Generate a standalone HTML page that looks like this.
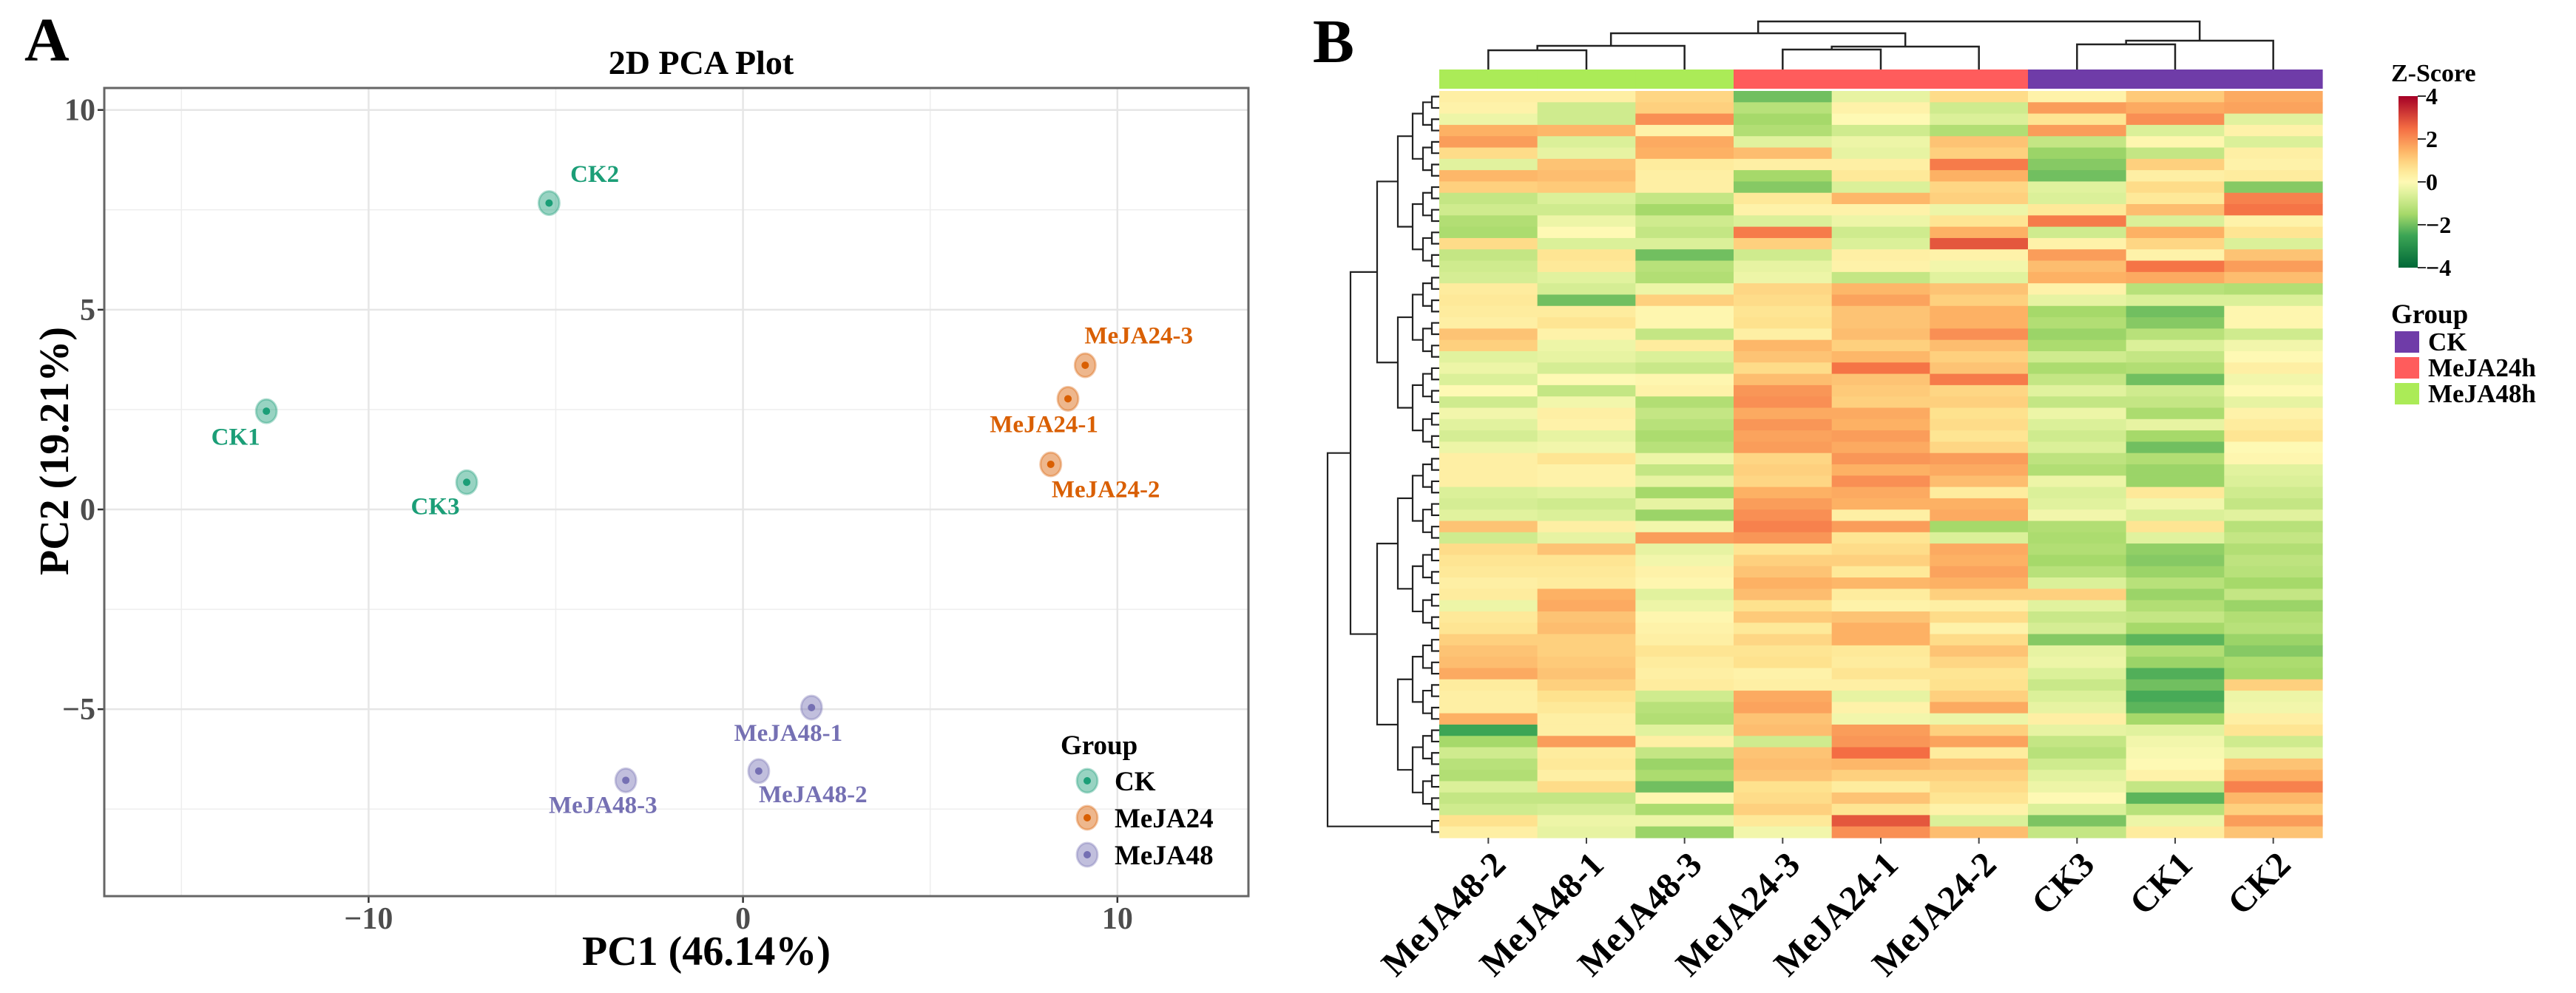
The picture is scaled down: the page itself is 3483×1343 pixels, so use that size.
<!DOCTYPE html>
<html><head><meta charset="utf-8"><style>
html,body{margin:0;padding:0;background:#fff;}
svg{display:block;font-family:"Liberation Serif",serif;font-weight:bold;}
</style></head><body>
<svg id="fig" width="3483" height="1343" viewBox="0 0 3483 1343" xmlns="http://www.w3.org/2000/svg">
<rect x="0" y="0" width="3483" height="1343" fill="#fff"/>
<text x="33" y="82" font-size="84">A</text>
<text x="948" y="100" font-size="46" text-anchor="middle">2D PCA Plot</text>
<g id="pca"></g>
<text x="955" y="1305" font-size="56" text-anchor="middle">PC1 (46.14%)</text>
<text transform="translate(92,610) rotate(-90)" font-size="56" text-anchor="middle">PC2 (19.21%)</text>
<text x="1775" y="84" font-size="84">B</text>
<g id="heat"></g>
</svg>
<script>
// ---------- PCA data ----------
const pcaSamples = ["CK1","CK2","CK3","MeJA24-1","MeJA24-2","MeJA24-3","MeJA48-1","MeJA48-2","MeJA48-3"];
const pcaGroups = ["CK","CK","CK","MeJA24","MeJA24","MeJA24","MeJA48","MeJA48","MeJA48"];
const pc1Values = [-12.73,-5.18,-7.38,8.68,8.22,9.14,1.83,0.42,-3.13];
const pc2Values = [2.46,7.67,0.68,2.77,1.13,3.61,-4.96,-6.55,-6.78];
const labelPc1 = [-13.55,-3.96,-8.22,8.04,9.69,10.57,1.21,1.87,-3.74];
const labelPc2 = [1.82,8.40,0.08,2.14,0.51,4.36,-5.59,-7.13,-7.39];
const xTicks = [-10,0,10];
const yTicks = [-5,0,5,10];
const groupNames = ["CK","MeJA24","MeJA48"];
const groupColors = {"CK":"#1b9e77","MeJA24":"#d95f02","MeJA48":"#7570b3"};

// ---------- Heatmap data (z-scores, rows top->bottom) ----------
const colNames = ["MeJA48-2","MeJA48-1","MeJA48-3","MeJA24-3","MeJA24-1","MeJA24-2","CK3","CK1","CK2"];
const colGroups = ["MeJA48h","MeJA48h","MeJA48h","MeJA24h","MeJA24h","MeJA24h","CK","CK","CK"];
const zMeJA48_2 = [0.3,0.2,-0.3,1.5,1.8,0.8,-0.5,1.4,1.0,-1.0,-0.8,-1.3,-1.4,0.8,-1.0,-0.8,-0.7,0.4,0.5,0.4,0.3,1.2,1.0,-0.5,-0.3,-0.6,0,-0.8,-0.2,-0.5,-0.7,-0.3,0.3,0.3,0.3,-0.6,-0.7,-0.5,1.2,-0.8,0.8,0.6,0.5,0.3,0.4,-0.3,0.5,0.6,1.0,1.2,1.3,1.6,0.4,0.3,0.3,1.5,-2.5,-1.5,-0.8,-1.2,-1.3,-0.6,-1.0,-0.8,0.7,0.3];
const zMeJA48_1 = [0.3,-0.8,-0.8,1.4,-0.6,-0.4,1.2,1.3,1.1,-0.6,-0.8,-0.3,0,-0.6,0.6,0.5,-0.5,-0.7,-2.0,0.4,0.6,0.2,-0.3,-0.4,-0.7,0,-1.0,-0.2,0.3,0.2,-0.4,-0.2,0.6,0.2,0.2,-0.5,-0.8,-0.6,0.3,-0.4,1.2,0.6,0.5,0.4,1.5,1.6,1.2,1.3,1.0,1.0,1.1,1.2,1.0,0.7,0.5,0.3,0.3,1.8,0.4,0.5,0.3,0.8,-1.0,-0.7,-0.3,-0.4];
const zMeJA48_3 = [0.9,1.0,2.0,0.2,1.6,1.5,0.4,0.3,0.3,-1.0,-1.5,-0.8,-1.0,-0.6,-2.0,-1.2,-1.3,-0.3,1.0,0.1,0.1,-1.0,0.4,-0.6,-0.9,0.1,0.2,-1.3,-1.0,-1.2,-1.4,-1.2,-0.3,-1.0,-0.4,-1.5,-0.4,-1.6,-0.2,1.8,-0.4,-0.2,0.2,0.1,-0.5,-0.3,0.1,0.2,0.3,0.6,0.4,0.3,0.4,-0.8,-1.2,-1.3,-0.5,0.3,-1.0,-1.6,-1.4,-2.0,0.1,-1.4,-0.3,-1.6];
const zMeJA24_3 = [-2.0,-1.2,-1.5,-1.3,-0.5,1.3,0.3,-1.5,-1.8,0.5,0.2,-0.6,2.3,1.0,-0.8,-0.4,-0.3,0.9,0.8,0.6,0.7,0.3,1.4,1.2,0.8,1.3,1.9,2.0,1.6,1.9,1.7,1.8,0.9,1.0,0.9,1.5,1.8,2.0,2.2,1.9,0.6,1.0,1.2,1.5,1.3,0.7,1.1,0.5,0.9,0.6,0.7,0.2,0.3,1.6,1.7,1.2,1.3,-0.8,1.2,1.3,1.2,0.7,0.8,1.0,0.5,-0.2];
const zMeJA24_1 = [-0.4,0.2,0,-0.8,-0.3,-0.4,0.3,0.5,-0.6,1.4,0.2,-0.3,-0.8,-0.6,0.3,0.2,-1.0,1.4,1.7,1.2,1.2,1.3,1.0,1.4,2.4,1.2,1.1,1.0,1.6,1.5,1.8,1.6,1.9,1.5,2.0,1.6,1.5,0.3,1.8,0.6,0.8,1.0,0.5,1.4,0.4,0.2,1.2,1.5,1.5,0.5,0.4,0.6,0.3,-0.4,0.2,-0.2,1.8,1.9,2.5,1.4,1.0,0.4,1.2,0.6,2.8,2.0];
const zMeJA24_2 = [0.8,-0.8,-0.6,-1.3,1.2,1.0,2.3,1.5,0.9,1.0,-0.3,0.6,1.5,2.8,0.2,-0.2,-0.5,1.2,1.0,1.5,1.5,2.0,1.3,1.0,1.2,2.3,0.9,1.0,0.7,0.8,0.6,0.9,1.8,1.6,1.3,0.4,1.5,1.6,-1.5,-0.6,1.6,1.5,1.7,1.5,1.0,0.3,0.8,0.2,0.8,1.2,0.9,0.6,0.7,1.0,1.6,-0.3,1.0,1.7,0.4,1.2,1.0,0.8,0.6,0.2,-0.6,1.3];
const zCK3 = [0.2,1.8,0.6,1.8,-1.0,-1.6,-1.8,-2.0,-0.5,-0.6,0.5,2.3,-0.8,0.2,1.8,1.3,1.5,0.2,-0.4,-1.5,-1.3,-1.6,-1.4,-0.8,-1.4,-1.0,-0.5,-1.0,-0.3,-0.6,-0.8,-0.6,-1.1,-1.3,-0.3,-0.6,-0.5,-0.2,-1.3,-1.4,-1.3,-1.5,-1.2,-0.6,1.0,-0.5,-0.9,-0.7,-1.8,-0.4,-0.3,-0.6,-0.9,-0.6,-0.4,0.3,-0.4,-1.0,-1.2,-0.8,-0.5,-0.3,0,-0.6,-1.9,-1.0];
const zCK1 = [1.1,1.6,2.0,-0.6,0.1,-1.0,1.0,0.3,0.8,0.5,1.3,-0.6,1.5,0.9,0.2,2.4,1.6,-1.2,-0.6,-2.0,-1.8,-1.2,-0.6,-1.0,-1.3,-2.0,-0.8,-1.0,-1.4,-0.4,-1.5,-2.0,-1.3,-1.6,-1.6,0.5,-0.2,-0.6,0.6,-0.5,-1.7,-1.8,-1.6,-1.2,-1.6,-1.3,-1.0,-1.5,-2.2,-1.3,-1.6,-2.3,-2.0,-2.4,-2.2,-1.5,-0.5,-0.2,-0.1,0,0.2,-1.0,-2.2,-1.2,-0.3,0.4];
const zCK2 = [1.6,1.7,-0.5,0.2,-0.6,0.3,0.2,0.4,-1.8,2.2,2.4,0.2,0.6,-0.6,1.2,1.8,1.3,-1.3,-0.6,0.1,0.1,-0.8,-0.2,0,0.3,-0.2,0,-0.4,0.2,0.4,0.6,0,0.1,-0.5,-0.6,-0.8,-1.0,-0.5,-1.2,-1.0,-1.3,-1.1,-1.2,-1.5,-1.0,-1.6,-1.3,-1.2,-1.6,-1.8,-1.4,-1.5,1.0,-0.3,-0.2,0.3,0.6,-0.8,-0.4,1.2,1.5,2.2,1.4,1.0,1.8,1.2];
const zScoreTicks = [4,2,0,-2,-4];
const groupLegendNames = ["CK","MeJA24h","MeJA48h"];
const groupBarColors = {"CK":"#6f3ca8","MeJA24h":"#ff5c5c","MeJA48h":"#abeb57"};
</script>
<script>
const NS="http://www.w3.org/2000/svg";
function mk(tag,attrs,parent){const e=document.createElementNS(NS,tag);for(const k in attrs)e.setAttribute(k,attrs[k]);parent.appendChild(e);return e;}

// ======== PCA ========
(function(){
const g=document.getElementById('pca');
const L=141,R=1688,T=119,B=1212;
const xMin=-17.06,xMax=13.5,yMin=-9.68,yMax=10.55;
const sx=v=>L+(v-xMin)/(xMax-xMin)*(R-L);
const sy=v=>B-(v-yMin)/(yMax-yMin)*(B-T);
mk('rect',{x:L,y:T,width:R-L,height:B-T,fill:'#fff'},g);
// minor grid
[-15,-5,5].forEach(v=>{const l=mk('line',{x1:sx(v),x2:sx(v),y1:T,y2:B,stroke:'#eeeeee','stroke-width':1.5},g);

});
[-7.5,-2.5,2.5,7.5].forEach(v=>{const l=mk('line',{x1:L,x2:R,y1:sy(v),y2:sy(v),stroke:'#eeeeee','stroke-width':1.5},g);

});
xTicks.forEach(v=>{const l=mk('line',{x1:sx(v),x2:sx(v),y1:T,y2:B,stroke:'#e6e6e6','stroke-width':2.5},g);


const t=mk('line',{x1:sx(v),x2:sx(v),y1:B,y2:B+9,stroke:'#333','stroke-width':2.5},g);


const tx=mk('text',{x:sx(v),y:B+44,'font-size':42,'text-anchor':'middle',fill:'#4d4d4d'},g);
tx.textContent=(v<0?'\u2212':'')+Math.abs(v);

});
yTicks.forEach(v=>{const l=mk('line',{x1:L,x2:R,y1:sy(v),y2:sy(v),stroke:'#e6e6e6','stroke-width':2.5},g);


const t=mk('line',{x1:L-9,x2:L,y1:sy(v),y2:sy(v),stroke:'#333','stroke-width':2.5},g);


const tx=mk('text',{x:L-12,y:sy(v)+14,'font-size':42,'text-anchor':'end',fill:'#4d4d4d'},g);
tx.textContent=(v<0?'\u2212':'')+Math.abs(v);

});
const fr=mk('rect',{x:L,y:T,width:R-L,height:B-T,fill:'none',stroke:'#666','stroke-width':3},g);


pcaSamples.forEach((s,i)=>{const c=groupColors[pcaGroups[i]];
const pg=mk('g',{},g);


mk('ellipse',{cx:sx(pc1Values[i]),cy:sy(pc2Values[i]),rx:14,ry:16,fill:c,'fill-opacity':0.45,stroke:c,'stroke-opacity':0.35,'stroke-width':3},pg);
mk('circle',{cx:sx(pc1Values[i]),cy:sy(pc2Values[i]),r:5,fill:c},pg);
const lt=mk('text',{x:sx(labelPc1[i]),y:sy(labelPc2[i])+11,'font-size':33,'text-anchor':'middle',fill:c},g);
lt.textContent=s;

});
// legend
const lg=mk('g',{},g);


const ltit=mk('text',{x:1434,y:1020,'font-size':37},lg);ltit.textContent='Group';


groupNames.forEach((n,i)=>{const c=groupColors[n];const y=1056+i*50;
const e=mk('g',{},lg);


mk('ellipse',{cx:1470,cy:y,rx:14,ry:16,fill:c,'fill-opacity':0.45,stroke:c,'stroke-opacity':0.35,'stroke-width':3},e);
mk('circle',{cx:1470,cy:y,r:5,fill:c},e);
const t=mk('text',{x:1507,y:y+13,'font-size':37},e);t.textContent=n;});
})();

// ======== Heatmap ========
(function(){
const g=document.getElementById('heat');
const cols=[zMeJA48_2,zMeJA48_1,zMeJA48_3,zMeJA24_3,zMeJA24_1,zMeJA24_2,zCK3,zCK1,zCK2];
const HL=1946,HR=3140,HT=123,HB=1133;
const nC=colNames.length,nR=cols[0].length;
const cw=(HR-HL)/nC,rh=(HB-HT)/nR;
const stops=[[-4,[0,104,55]],[-2.5,[60,165,85]],[-1.5,[166,217,106]],[-0.5,[225,242,158]],[0,[254,249,180]],[0.7,[254,226,142]],[1.5,[253,177,100]],[2.5,[244,109,67]],[4,[165,0,38]]];
function col(v){v=Math.max(-4,Math.min(4,v));for(let i=0;i<stops.length-1;i++){const a=stops[i],b=stops[i+1];if(v<=b[0]){const t=(v-a[0])/(b[0]-a[0]);const c=a[1].map((x,k)=>Math.round(x+(b[1][k]-x)*t));return 'rgb('+c.join(',')+')';}}return 'rgb(165,0,38)';}
const cells=mk('g',{},g);


cols.forEach((arr,j)=>{arr.forEach((v,i)=>{const r=mk('rect',{x:HL+j*cw,y:HT+i*rh,width:cw+0.6,height:rh+0.6,fill:col(v)},cells);

});});
// annotation bar
colGroups.forEach((gr,j)=>{const r=mk('rect',{x:HL+j*cw,y:94,width:cw+0.6,height:26,fill:groupBarColors[gr]},g);

});
const cx=j=>HL+(j+0.5)*cw;
// column dendrogram
const dg=mk('g',{stroke:'#222','stroke-width':2.5,fill:'none'},g);


function link(x1,y1,x2,y2,h){mk('path',{d:`M${x1},${y1}V${h}H${x2}V${y2}`},dg);}
const lb=94;
link(cx(0),lb,cx(1),lb,68);const g01=(cx(0)+cx(1))/2;
link(g01,68,cx(2),lb,62);const gG=(g01+cx(2))/2;
link(cx(3),lb,cx(4),lb,67);const r34=(cx(3)+cx(4))/2;
link(r34,67,cx(5),lb,63);const gR=(r34+cx(5))/2;
link(gG,62,gR,63,45);const gGR=(gG+gR)/2;
link(cx(6),lb,cx(7),lb,60);const p67=(cx(6)+cx(7))/2;
link(p67,60,cx(8),lb,55);const gP=(p67+cx(8))/2;
link(gGR,45,gP,55,29);
// row dendrogram (structural)
const rg=mk('g',{stroke:'#222','stroke-width':2.2,fill:'none'},g);


const levelX=[HL,1936,1924,1910,1890,1862,1826,1795,1784];
let nodes=[];for(let i=0;i<nR;i++)nodes.push({y:HT+(i+0.5)*rh,x:HL});
let lev=1;
while(nodes.length>1){const nn=[];for(let i=0;i<nodes.length;i+=2){if(i+1<nodes.length){const a=nodes[i],b=nodes[i+1];const x=levelX[Math.min(lev,levelX.length-1)];
mk('path',{d:`M${a.x},${a.y}H${x}V${b.y}H${b.x}`},rg);nn.push({x:x,y:(a.y+b.y)/2});}else nn.push(nodes[i]);}
nodes=nn;lev++;}
// ticks + labels
colNames.forEach((n,j)=>{const t=mk('line',{x1:cx(j),x2:cx(j),y1:HB,y2:HB+8,stroke:'#444','stroke-width':2},g);


const tx=mk('text',{transform:`translate(${cx(j)+26},${HB+39}) rotate(-45)`,'font-size':48,'text-anchor':'end'},g);
tx.textContent=n;

});
// color bar legend
const defs=mk('defs',{},g);
const lgd=mk('linearGradient',{id:'zgrad',x1:0,y1:1,x2:0,y2:0},defs);
for(let k=0;k<=16;k++){const v=-4+k*0.5;mk('stop',{offset:(k/16),'stop-color':col(v)},lgd);}
const zt=mk('text',{x:3233,y:110,'font-size':34},g);zt.textContent='Z-Score';


const cb=mk('rect',{x:3243,y:130,width:26,height:232,fill:'url(#zgrad)'},g);


const cy=v=>362-(v+4)/8*232;
zScoreTicks.forEach(v=>{mk('line',{x1:3269,x2:3280,y1:cy(v),y2:cy(v),stroke:'#333','stroke-width':2},g);
const t=mk('text',{x:3280,y:cy(v)+11,'font-size':32},g);t.textContent=(v<0?'\u2212':'')+Math.abs(v);

});
const gt=mk('text',{x:3233,y:437,'font-size':37},g);gt.textContent='Group';


groupLegendNames.forEach((n,i)=>{const y=448+i*35;const e=mk('g',{},g);


mk('rect',{x:3238,y:y,width:33,height:29,fill:groupBarColors[n]},e);
const t=mk('text',{x:3283,y:y+26,'font-size':35},e);t.textContent=n;});
})();
</script>
</body></html>
